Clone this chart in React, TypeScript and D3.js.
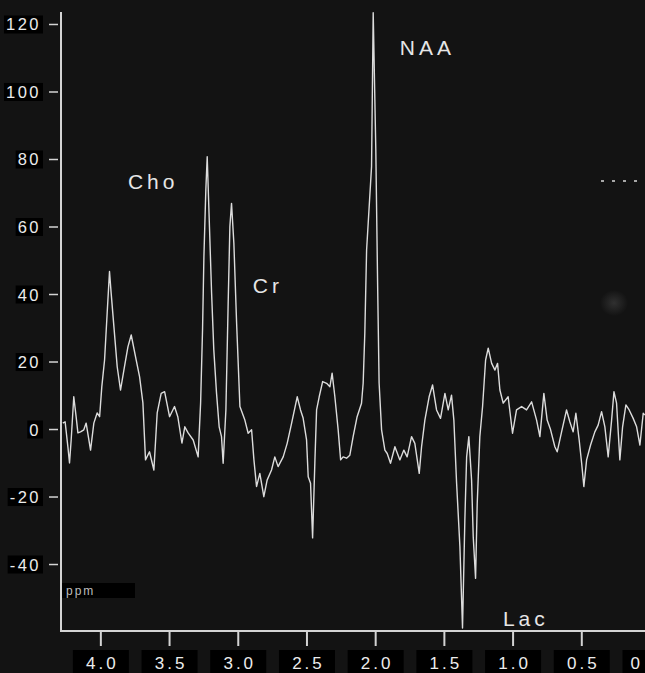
import React, { useEffect, useRef } from 'react';
import * as d3 from 'd3';

// chemical shift (ppm) and signal amplitude
const ppm = [4.277, 4.260, 4.240, 4.228, 4.216, 4.197, 4.180, 4.167, 4.148, 4.124, 4.107, 4.075, 4.051, 4.027, 4.009,
  3.993, 3.973, 3.954, 3.937, 3.925, 3.905, 3.881, 3.857, 3.828, 3.803, 3.779, 3.743, 3.718, 3.694, 3.675, 3.646,
  3.614, 3.590, 3.561, 3.536, 3.500, 3.464, 3.440, 3.410, 3.389, 3.365, 3.328, 3.292, 3.274, 3.260, 3.250, 3.236,
  3.226, 3.212, 3.194, 3.178, 3.158, 3.139, 3.122, 3.110, 3.090, 3.074, 3.061, 3.049, 3.032, 3.012, 2.988, 2.952,
  2.928, 2.903, 2.886, 2.867, 2.843, 2.814, 2.790, 2.758, 2.734, 2.710, 2.673, 2.644, 2.612, 2.571, 2.547, 2.528,
  2.503, 2.491, 2.474, 2.459, 2.442, 2.430, 2.411, 2.386, 2.357, 2.333, 2.317, 2.297, 2.273, 2.255, 2.237, 2.212,
  2.188, 2.164, 2.135, 2.103, 2.091, 2.079, 2.066, 2.030, 2.018, 1.999, 1.986, 1.975, 1.957, 1.933, 1.916, 1.892,
  1.860, 1.824, 1.795, 1.771, 1.739, 1.715, 1.683, 1.666, 1.642, 1.611, 1.586, 1.557, 1.528, 1.496, 1.472, 1.448,
  1.431, 1.411, 1.387, 1.368, 1.351, 1.338, 1.322, 1.302, 1.290, 1.273, 1.261, 1.242, 1.222, 1.200, 1.181, 1.156,
  1.132, 1.113, 1.096, 1.072, 1.036, 1.004, 0.975, 0.938, 0.902, 0.865, 0.829, 0.805, 0.776, 0.752, 0.727, 0.696,
  0.679, 0.647, 0.611, 0.587, 0.563, 0.543, 0.519, 0.501, 0.485, 0.465, 0.436, 0.405, 0.381, 0.356, 0.332, 0.308,
  0.283, 0.266, 0.247, 0.223, 0.203, 0.179, 0.155, 0.126, 0.101, 0.077, 0.053, 0.041];

const signal = [1.9, 2.3, -5.1, -9.9, -3.1, 9.7, 3.8, -1.0, -0.7, -0.1, 1.9, -6.1, 1.9, 4.9, 3.8,
  12.7, 20.6, 34.5, 46.8, 40.4, 30.5, 18.6, 11.7, 18.6, 24.5, 28.0, 20.6, 15.6, 7.9, -9.0, -6.6,
  -12.0, 4.9, 10.7, 11.2, 3.8, 6.8, 3.8, -4.0, 0.8, -1.0, -3.1, -8.1, 7.9, 29.5, 51.2, 71.0,
  80.8, 63.1, 40.4, 23.6, 10.7, 0.8, -2.1, -10.0, 5.8, 36.4, 60.1, 67.0, 55.2, 31.5, 6.8, 2.8,
  -1.1, -0.1, -9.0, -16.9, -13.0, -19.9, -15.0, -12.0, -8.1, -11.0, -8.1, -4.1, 1.8, 9.7, 5.8, 3.4,
  -3.1, -14.0, -15.9, -32.1, -9.0, 5.8, 9.7, 14.2, 13.7, 12.7, 16.7, 9.7, -0.1, -9.0, -8.1, -8.5,
  -7.6, -2.1, 3.8, 7.8, 13.8, 28.6, 53.2, 77.9, 123.5, 82.8, 43.4, 13.8, -0.1, -6.1, -7.1, -10.0,
  -5.1, -9.0, -6.1, -8.1, -2.1, -4.1, -13.0, -5.1, 2.8, 9.7, 13.2, 5.8, 3.3, 10.7, 5.8, 10.2,
  2.8, -15.9, -34.7, -58.8, -26.8, -8.1, -2.1, -15.0, -31.8, -44.1, -21.9, -2.1, 6.8, 20.6, 24.1, 19.6,
  17.6, 19.6, 11.7, 7.8, 9.7, -1.1, 5.8, 6.8, 5.8, 8.2, 2.8, -2.1, 10.7, 2.8, -0.1, -5.1,
  -6.6, -0.7, 5.8, 2.3, -0.7, 4.8, -3.1, -10.0, -16.9, -9.0, -4.6, -0.7, 1.3, 5.3, 0.8, -8.1,
  2.8, 11.2, 7.8, -9.0, 0.8, 7.3, 5.8, 3.3, 0.8, -4.6, 4.8, 4.3];

const yTicks = [-40, -20, 0, 20, 40, 60, 80, 100, 120];
const xTicks = [4.0, 3.5, 3.0, 2.5, 2.0, 1.5, 1.0, 0.5, 0.0];
const xTickLabels = ['4.0', '3.5', '3.0', '2.5', '2.0', '1.5', '1.0', '0.5', '0'];

const peakNames = ['NAA', 'Cho', 'Cr', 'Lac'];
const peakPpm = [1.824, 3.803, 2.894, 1.074];
const peakLevel = [111, 71.3, 40.4, -58.2];

const W = 645, H = 673;
const FONT = '"Liberation Sans", Arial, sans-serif';

function Spectrum() {
  const ref = useRef<SVGSVGElement>(null);

  useEffect(() => {
    if (!ref.current) return;
    const svg = d3.select(ref.current);
    svg.selectAll('*').remove();

    const x = d3.scaleLinear().domain([4.29, 0.04]).range([61, 645]);
    const y = d3.scaleLinear().domain([-59.4, 123.7]).range([630, 12]);

    svg.append('rect').attr('width', W).attr('height', H).attr('fill', '#131313');

    // faint smudge and dotted mark on the right, part of the scan
    const defs = svg.append('defs');
    const grad = defs.append('radialGradient').attr('id', 'smudge');
    grad.append('stop').attr('offset', '0%').attr('stop-color', '#303030');
    grad.append('stop').attr('offset', '100%').attr('stop-color', '#131313');
    svg.append('ellipse').attr('cx', 614).attr('cy', 303).attr('rx', 14).attr('ry', 13).attr('fill', 'url(#smudge)');
    svg.append('line')
      .attr('x1', 601).attr('x2', 645).attr('y1', 181).attr('y2', 181)
      .attr('stroke', '#a8a8a8').attr('stroke-width', 2).attr('stroke-dasharray', '3,8');

    // axes
    const axisCol = '#d4d4d4';
    svg.append('line').attr('x1', 61).attr('x2', 61).attr('y1', 12).attr('y2', 631)
      .attr('stroke', axisCol).attr('stroke-width', 2);
    svg.append('line').attr('x1', 60).attr('x2', 645).attr('y1', 631).attr('y2', 631)
      .attr('stroke', axisCol).attr('stroke-width', 2);

    // y ticks + labels on black boxes
    yTicks.forEach(v => {
      const yy = y(v);
      svg.append('line').attr('x1', 49).attr('x2', 58).attr('y1', yy).attr('y2', yy)
        .attr('stroke', axisCol).attr('stroke-width', 1.5);
      const g = svg.append('g');
      const t = g.append('text')
        .attr('x', 41).attr('y', yy + 6)
        .attr('text-anchor', 'end')
        .style('font-family', FONT).style('font-size', '16.5px').style('letter-spacing', '2.5px')
        .attr('fill', '#ececec')
        .text(v);
      const b = (t.node() as SVGTextElement).getBBox();
      g.insert('rect', 'text')
        .attr('x', b.x - 2).attr('y', b.y).attr('width', b.width + 4).attr('height', b.height)
        .attr('fill', '#000');
    });

    // x ticks + labels on black boxes
    xTicks.forEach((v, i) => {
      const xx = x(v);
      svg.append('line').attr('x1', xx).attr('x2', xx).attr('y1', 631).attr('y2', 646)
        .attr('stroke', axisCol).attr('stroke-width', 2);
      svg.append('rect').attr('x', xx - 28).attr('y', 650).attr('width', 56).attr('height', 23).attr('fill', '#000');
      const t = svg.append('text')
        .attr('x', xx + 1.5).attr('y', 669)
        .attr('text-anchor', 'middle')
        .style('font-family', FONT).style('font-size', '17px').style('letter-spacing', '3px')
        .attr('fill', '#ececec')
        .text(xTickLabels[i]);
      // keep the last label inside the frame
      const b = (t.node() as SVGTextElement).getBBox();
      if (b.x + b.width > W - 2) t.attr('x', xx + 1.5 - (b.x + b.width - (W - 2)));
    });

    // ppm tag
    svg.append('rect').attr('x', 62).attr('y', 583).attr('width', 73).attr('height', 15).attr('fill', '#000');
    svg.append('text').attr('x', 66).attr('y', 595)
      .style('font-family', FONT).style('font-size', '12px').style('letter-spacing', '2px')
      .attr('fill', '#bdbdbd').text('ppm');

    // the spectrum trace
    const pts: [number, number][] = ppm.map((p, i) => [p, signal[i]]);
    const line = d3.line<[number, number]>()
      .x(d => x(d[0]))
      .y(d => y(d[1]))
      .curve(d3.curveLinear);
    svg.append('path')
      .datum(pts)
      .attr('d', line)
      .attr('fill', 'none')
      .attr('stroke', '#dcdcdc')
      .attr('stroke-width', 1.4)
      .attr('stroke-linejoin', 'round');

    // metabolite names
    peakNames.forEach((n, i) => {
      svg.append('text')
        .attr('x', x(peakPpm[i])).attr('y', y(peakLevel[i]))
        .style('font-family', FONT).style('font-size', '21px').style('letter-spacing', '4px')
        .attr('fill', '#e6e6e6')
        .text(n);
    });
  });

  return <svg ref={ref} width={W} height={H} style={{ position: 'absolute', left: 0, top: 0, display: 'block' }} />;
}

export default function App() {
  return <Spectrum />;
}
